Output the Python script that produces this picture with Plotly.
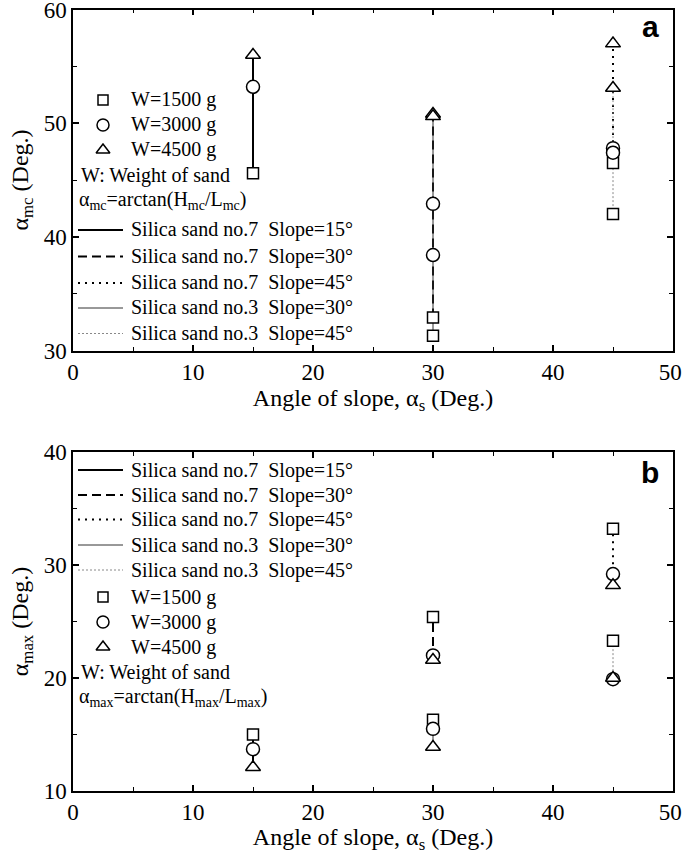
import plotly.graph_objects as go

# ---------------- data ----------------
slope_x = [15, 30, 45]
weights = ["W=1500 g", "W=3000 g", "W=4500 g"]

series_names = [
    "Silica sand no.7\u00a0\u00a0Slope=15°",
    "Silica sand no.7\u00a0\u00a0Slope=30°",
    "Silica sand no.7\u00a0\u00a0Slope=45°",
    "Silica sand no.3\u00a0\u00a0Slope=30°",
    "Silica sand no.3\u00a0\u00a0Slope=45°",
]
series_slope = [15, 30, 45, 30, 45]

# panel a: alpha_mc values per series, order [1500 g, 3000 g, 4500 g]
amc_no7_s15 = [45.6, 53.2, 56.0]
amc_no7_s30 = [32.9, 42.9, 50.8]
amc_no7_s45 = [46.5, 47.8, 57.0]
amc_no3_s30 = [31.3, 38.4, 50.6]
amc_no3_s45 = [42.0, 47.4, 53.1]

# panel b: alpha_max values per series
amax_no7_s15 = [15.0, 13.7, 12.1]
amax_no7_s30 = [25.4, 22.0, 21.6]
amax_no7_s45 = [33.2, 29.2, 28.2]
amax_no3_s30 = [16.3, 15.5, 13.9]
amax_no3_s45 = [23.3, 19.9, 20.0]

x_ticks = [0, 10, 20, 30, 40, 50]
x_ticktext = ["0", "10", "20", "30", "40", "50\u00a0"]
ya_ticks = [30, 40, 50, 60]
yb_ticks = [10, 20, 30, 40]

panel_a = [amc_no7_s15, amc_no7_s30, amc_no7_s45, amc_no3_s30, amc_no3_s45]
panel_b = [amax_no7_s15, amax_no7_s30, amax_no7_s45, amax_no3_s30, amax_no3_s45]

# ---------------- styles ----------------
FONT = "Liberation Serif, Times New Roman, serif"
W, H = 685, 854
line_styles = [
    dict(color="black", width=2, dash="solid"),
    dict(color="black", width=2, dash="9px,5px"),
    dict(color="black", width=2, dash="2px,5px"),
    dict(color="#333333", width=1, dash="solid"),
    dict(color="#888888", width=1, dash="2px,2px"),
]
symbols = ["square", "circle", "triangle-up"]
msizes = [11, 13, 13]

fig = go.Figure()

def add_panel(values, xa, ya):
    for vals, sx, ls in zip(values, series_slope, line_styles):
        fig.add_trace(go.Scatter(x=[sx] * len(vals), y=sorted(vals), mode="lines",
                                 line=ls, xaxis=xa, yaxis=ya, showlegend=False,
                                 hoverinfo="skip"))
    for vals, sx in zip(values, series_slope):
        for k in range(3):
            fig.add_trace(go.Scatter(
                x=[sx], y=[vals[k]], mode="markers", xaxis=xa, yaxis=ya,
                marker=dict(symbol=symbols[k], size=msizes[k],
                            color="white", line=dict(color="black", width=1.5)),
                showlegend=False, name=weights[k]))

add_panel(panel_a, "x", "y")
add_panel(panel_b, "x2", "y2")

# plot areas in screen pixels
ax_l, ax_r = 73, 673
pa_t, pa_b = 9.5, 350.5
pb_t, pb_b = 452, 791

def dom_x(a, b):
    return [a / W, b / W]

def dom_y(t, b):
    return [1 - b / H, 1 - t / H]

minor_common = dict(ticks="inside", ticklen=4, tickwidth=1.2, tickcolor="black", dtick=5, tick0=0)
axis_common = dict(showline=True, linecolor="black", linewidth=1.5, mirror="ticks",
                   ticks="inside", ticklen=6, tickwidth=1.5, tickcolor="black",
                   showgrid=False, zeroline=False, ticklabeloverflow="allow",
                   tickfont=dict(family=FONT, size=23, color="black"),
                   minor=minor_common, automargin=False)

title_font = dict(family=FONT, size=24, color="black")

fig.update_layout(
    width=W, height=H, margin=dict(l=0, r=0, t=0, b=0),
    paper_bgcolor="white", plot_bgcolor="white", showlegend=False,
    xaxis=dict(axis_common, domain=dom_x(ax_l, ax_r), range=[0, 50], tickvals=x_ticks,
               ticktext=x_ticktext, anchor="y",
               title=dict(text="Angle of slope, α<sub>s</sub> (Deg.)", font=title_font, standoff=4)),
    yaxis=dict(axis_common, domain=dom_y(pa_t, pa_b), range=[30, 60], tickvals=ya_ticks, anchor="x",
               title=dict(text="α<sub>mc</sub> (Deg.)", font=title_font, standoff=8)),
    xaxis2=dict(axis_common, domain=dom_x(ax_l, ax_r), range=[0, 50], tickvals=x_ticks,
                ticktext=x_ticktext, anchor="y2",
                title=dict(text="Angle of slope, α<sub>s</sub> (Deg.)", font=title_font, standoff=4)),
    yaxis2=dict(axis_common, domain=dom_y(pb_t, pb_b), range=[10, 40], tickvals=yb_ticks, anchor="x2",
                title=dict(text="α<sub>max</sub> (Deg.)", font=title_font, standoff=8)),
    # key (legend) axes in screen-pixel units, overlaying each panel
    xaxis3=dict(domain=dom_x(ax_l, ax_r), range=[ax_l, ax_r], visible=False, anchor="y3", overlaying="x"),
    yaxis3=dict(domain=dom_y(pa_t, pa_b), range=[pa_b, pa_t], visible=False, anchor="x3", overlaying="y"),
    xaxis4=dict(domain=dom_x(ax_l, ax_r), range=[ax_l, ax_r], visible=False, anchor="y4", overlaying="x2"),
    yaxis4=dict(domain=dom_y(pb_t, pb_b), range=[pb_b, pb_t], visible=False, anchor="x4", overlaying="y2"),
)

LEG_SIZE = 20
leg_font = dict(family=FONT, size=LEG_SIZE, color="black")

def add_key(xa, ya, marker_rows, text_rows, line_rows, sub):
    for k, yy in enumerate(marker_rows):
        fig.add_trace(go.Scatter(x=[103], y=[yy], mode="markers", xaxis=xa, yaxis=ya,
                                 marker=dict(symbol=symbols[k], size=msizes[k] - 1,
                                             color="white", line=dict(color="black", width=1.5)),
                                 showlegend=False, hoverinfo="skip"))
        fig.add_annotation(x=129, y=yy, xref=xa, yref=ya, text=weights[k], showarrow=False,
                           xanchor="left", yanchor="middle", font=leg_font)
    fig.add_annotation(x=79, y=text_rows[0], xref=xa, yref=ya, text="W: Weight of sand",
                       showarrow=False, xanchor="left", yanchor="middle", font=leg_font)
    fig.add_annotation(x=77, y=text_rows[1], xref=xa, yref=ya,
                       text=f"α<sub>{sub}</sub>=arctan(H<sub>{sub}</sub>/L<sub>{sub}</sub>)",
                       showarrow=False, xanchor="left", yanchor="middle", font=leg_font)
    for name, ls, yy in zip(series_names, line_styles, line_rows):
        fig.add_trace(go.Scatter(x=[78, 123], y=[yy, yy], mode="lines", xaxis=xa, yaxis=ya,
                                 line=ls, showlegend=False, hoverinfo="skip"))
        fig.add_annotation(x=129, y=yy, xref=xa, yref=ya, text=name, showarrow=False,
                           xanchor="left", yanchor="middle", font=leg_font)

add_key("x3", "y3", [100, 125, 150], [176, 201], [230, 256.5, 283, 308, 333.5], "mc")
add_key("x4", "y4", [597, 622, 647], [672, 697], [470, 495, 519.5, 545, 570], "max")

fig.add_annotation(x=650, y=27, xref="x3", yref="y3", text="<b>a</b>", showarrow=False,
                   font=dict(family="Liberation Sans", size=30, color="black"))
fig.add_annotation(x=650, y=472, xref="x4", yref="y4", text="<b>b</b>", showarrow=False,
                   font=dict(family="Liberation Sans", size=30, color="black"))

fig.write_html("out.html", config={"displayModeBar": False},
               post_script="document.body.style.margin='0';document.body.style.overflow='hidden';")
